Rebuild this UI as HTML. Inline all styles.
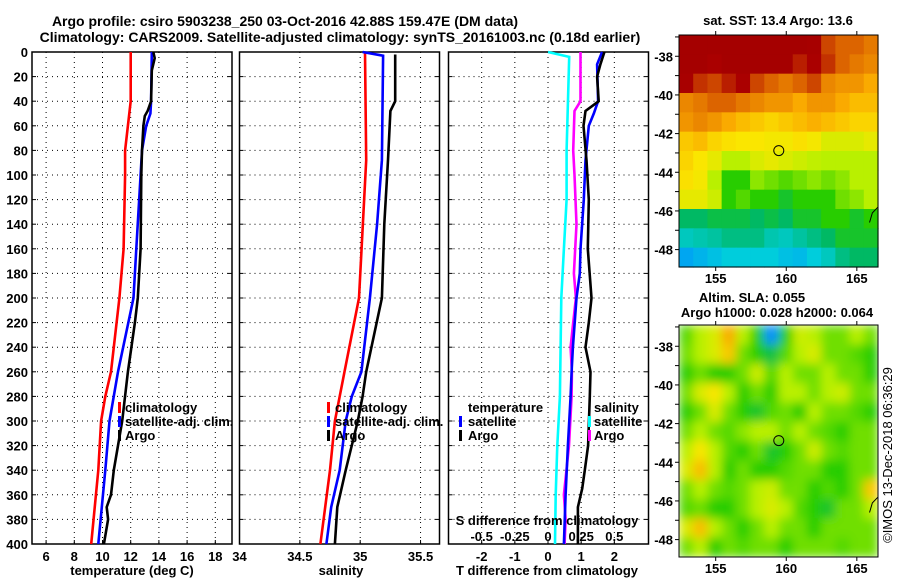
<!DOCTYPE html>
<html><head><meta charset="utf-8"><style>
html,body{margin:0;padding:0;background:#fff;}
svg{display:block;font-family:"Liberation Sans",Arial,sans-serif;font-weight:bold;}
</style></head><body>
<svg id="c" width="900" height="580" viewBox="0 0 900 580" xmlns="http://www.w3.org/2000/svg">
<defs>
<filter id="blur" x="0" y="0" width="100%" height="100%"><feGaussianBlur stdDeviation="5" edgeMode="duplicate"/></filter>
<clipPath id="clipMap2"><rect x="679" y="325" width="199" height="232"/></clipPath>
</defs>
<text x="285" y="26" font-size="14" text-anchor="middle">Argo profile: csiro 5903238_250 03-Oct-2016 42.88S 159.47E (DM data)</text>
<text x="340" y="42" font-size="14" text-anchor="middle">Climatology: CARS2009. Satellite-adjusted climatology: synTS_20161003.nc (0.18d earlier)</text>
</svg>
<script>
// ---- Profile data ----
const depthTicks=[0,20,40,60,80,100,120,140,160,180,200,220,240,260,280,300,320,340,360,380,400];
const tTicks=[6,8,10,12,14,16,18];
const sTicks=[34,34.5,35,35.5];
const dTTicks=[-2,-1,0,1,2];
const dSTickLabels=["-0.5","-0.25","0","0.25","0.5"];
const dSTicks=[-0.5,-0.25,0,0.25,0.5];

const tDepthClim=[0,40,60,80,100,160,200,260,280,300,340,400];
const tClim=[12.0,12.0,11.8,11.6,11.6,11.5,11.2,10.6,10.2,9.9,9.7,9.2];
const tDepthSat=[0,40,50,60,80,100,160,200,260,300,340,400];
const tSat=[13.5,13.45,13.4,13.1,12.8,12.7,12.4,12.2,11.1,10.5,10.2,9.7];
const tDepthArgo=[0,5,15,40,48,52,60,80,100,160,200,220,260,300,320,340,360,370,380,400];
const tArgo=[13.6,13.7,13.5,13.45,13.2,13.0,12.9,12.8,12.75,12.7,12.5,12.3,11.8,11.4,11.1,10.8,10.6,10.3,10.4,10.1];

const sDepthClim=[0,88,200,260,280,300,340,370,400];
const sClim=[35.04,35.05,34.99,34.87,34.83,34.79,34.75,34.71,34.67];
const sDepthSat=[0,3,88,140,200,260,280,300,340,370,400];
const sSat=[35.02,35.19,35.18,35.14,35.08,35.01,34.93,34.88,34.83,34.76,34.72];
const sDepthArgo=[2,40,48,88,140,200,260,280,300,340,370,400];
const sArgo=[35.29,35.29,35.25,35.23,35.2,35.18,35.05,35.02,34.98,34.88,34.81,34.79];

const dtDepthSat=[0,10,40,50,60,88,120,160,180,200,240,260,280,320,360,400];
const dtSat=[1.63,1.48,1.51,1.38,1.23,1.13,1.08,0.98,0.96,0.86,0.75,0.71,0.68,0.6,0.53,0.48];
const dtDepthArgo=[0,10,20,40,48,60,88,120,160,200,220,240,260,280,320,340,355,370,400];
const dtArgo=[1.7,1.58,1.48,1.53,1.13,1.07,1.16,1.23,1.2,1.31,1.23,1.13,1.28,1.26,1.21,1.11,1.03,0.9,0.9];
const dsDepthSat=[0,4,80,120,160,200,240,280,320,360,400];
const dsSat=[0,0.16,0.14,0.14,0.12,0.10,0.095,0.09,0.07,0.058,0.053];
const dsDepthArgo=[0,40,48,80,100,140,180,200,220,240,260,280,320,360,380,400];
const dsArgo=[0.245,0.245,0.2,0.19,0.2,0.215,0.195,0.21,0.19,0.17,0.18,0.178,0.158,0.12,0.133,0.125];

// ---- Map data ----
const mapLonTicks=[155,160,165];
const mapLatTicks=[-38,-40,-42,-44,-46,-48];
const sstGrid=[
[1,1,1,1,1,1,1,1,1,0.98,0.88,0.85,0.85,0.82],
[1,1,0.95,1,1,1,1,1,0.92,0.95,0.9,0.85,0.82,0.8],
[0.97,0.9,0.88,0.92,0.95,0.88,0.85,0.82,0.85,0.88,0.8,0.78,0.78,0.75],
[0.8,0.82,0.85,0.85,0.82,0.8,0.78,0.78,0.75,0.78,0.78,0.75,0.72,0.72],
[0.78,0.8,0.78,0.75,0.72,0.7,0.68,0.7,0.72,0.74,0.72,0.7,0.68,0.68],
[0.7,0.72,0.68,0.66,0.65,0.65,0.64,0.64,0.66,0.64,0.6,0.6,0.6,0.62],
[0.68,0.65,0.62,0.55,0.55,0.6,0.62,0.6,0.58,0.56,0.55,0.55,0.55,0.55],
[0.66,0.64,0.55,0.45,0.45,0.52,0.5,0.48,0.5,0.52,0.5,0.52,0.55,0.55],
[0.62,0.62,0.58,0.45,0.48,0.45,0.45,0.42,0.45,0.45,0.45,0.5,0.52,0.55],
[0.38,0.38,0.4,0.4,0.4,0.38,0.4,0.38,0.42,0.42,0.45,0.45,0.42,0.45],
[0.32,0.33,0.34,0.36,0.36,0.36,0.33,0.32,0.34,0.36,0.38,0.42,0.42,0.42],
[0.24,0.26,0.28,0.3,0.3,0.3,0.3,0.28,0.27,0.3,0.32,0.36,0.38,0.38]];
const slaGrid=[
[0.48,0.55,0.6,0.75,0.55,0.45,0.2,0.45,0.58,0.55,0.5,0.5,0.55,0.5],
[0.5,0.55,0.6,0.7,0.5,0.45,0.4,0.48,0.55,0.6,0.5,0.5,0.48,0.45],
[0.45,0.5,0.45,0.45,0.5,0.58,0.48,0.55,0.5,0.5,0.55,0.5,0.5,0.45],
[0.5,0.6,0.65,0.55,0.45,0.5,0.45,0.55,0.55,0.5,0.55,0.58,0.5,0.5],
[0.45,0.5,0.6,0.5,0.45,0.42,0.48,0.5,0.45,0.55,0.5,0.5,0.48,0.45],
[0.5,0.55,0.5,0.48,0.52,0.55,0.55,0.5,0.55,0.5,0.48,0.45,0.5,0.5],
[0.55,0.65,0.55,0.48,0.45,0.5,0.42,0.45,0.5,0.58,0.5,0.48,0.5,0.5],
[0.6,0.72,0.55,0.45,0.5,0.45,0.45,0.48,0.5,0.5,0.45,0.45,0.5,0.5],
[0.5,0.55,0.5,0.48,0.5,0.55,0.58,0.5,0.5,0.45,0.48,0.45,0.5,0.7],
[0.48,0.5,0.45,0.45,0.5,0.55,0.6,0.55,0.48,0.45,0.42,0.5,0.5,0.55],
[0.6,0.72,0.55,0.5,0.45,0.5,0.55,0.5,0.5,0.45,0.5,0.5,0.5,0.5],
[0.5,0.55,0.45,0.5,0.48,0.5,0.5,0.45,0.5,0.5,0.5,0.48,0.5,0.5]];
const argoLon=159.47, argoLat=-42.88;

const NS="http://www.w3.org/2000/svg";
const svg=document.getElementById('c');
function mk(tag,attrs,parent){const e=document.createElementNS(NS,tag);for(const k in attrs)e.setAttribute(k,attrs[k]);(parent||svg).appendChild(e);return e;}

const Y0=52,Y1=544;
function yD(d){return Y0+(Y1-Y0)*d/400;}

function panel(name,x0,x1,dmin,dmax,ticks,labels,showY){
  const g=mk('g',{});
  
  
  const xs=v=>x0+(x1-x0)*(v-dmin)/(dmax-dmin);
  depthTicks.forEach((d,i)=>{
    if(d>0&&d<400){const l=mk('line',{x1:x0,x2:x1,y1:yD(d),y2:yD(d),stroke:'#000','stroke-width':1,'stroke-dasharray':'1,4'},g);
    }
    mk('line',{x1:x0,x2:x0+4,y1:yD(d),y2:yD(d),stroke:'#000'},g);
    mk('line',{x1:x1,x2:x1-4,y1:yD(d),y2:yD(d),stroke:'#000'},g);
    if(showY){const t=mk('text',{x:x0-4,y:yD(d)+5,'font-size':13,'text-anchor':'end'},g);t.textContent=d;
    }
  });
  ticks.forEach((v,i)=>{
    const x=xs(v);
    if(x>x0+1&&x<x1-1){const l=mk('line',{x1:x,x2:x,y1:Y0,y2:Y1,stroke:'#000','stroke-dasharray':'1,4'},g);
    }
    mk('line',{x1:x,x2:x,y1:Y1,y2:Y1-4,stroke:'#000'},g);
    const t=mk('text',{x:x,y:561,'font-size':13,'text-anchor':'middle'},g);t.textContent=labels?labels[i]:v;
    
  });
  const r=mk('rect',{x:x0,y:Y0,width:x1-x0,height:Y1-Y0,fill:'none',stroke:'#000','stroke-width':1.5},g);
  
  return {g,xs};
}
function series(p,depths,vals,color,name,conv){
  const pts=depths.map((d,i)=>p.xs(conv?conv(vals[i]):vals[i]).toFixed(1)+','+yD(d).toFixed(1)).join(' ');
  const l=mk('polyline',{points:pts,fill:'none',stroke:color,'stroke-width':2.6,'stroke-linejoin':'miter'},p.g);
  
}
function label(x,y,txt,name,anchor,size){const t=mk('text',{x:x,y:y,'font-size':size||13,'text-anchor':anchor||'start'});t.textContent=txt;
  return t;}
function legBar(x,y,color,name){const r=mk('rect',{x:x,y:y-10,width:3,height:11,fill:color});
  }

// Panel 1 temperature
const p1=panel('temperature-panel',32,232,5,5+200/14.1,tTicks,null,true);
series(p1,tDepthClim,tClim,'#f00','climatology-temperature-line');
series(p1,tDepthSat,tSat,'#00f','satellite-temperature-line');
series(p1,tDepthArgo,tArgo,'#000','argo-temperature-line');
label(132,575,'temperature (deg C)','x-axis-title-temperature','middle');
legBar(118,412,'#f00','legend-swatch-climatology');label(125,412,'climatology','legend-entry-climatology');
legBar(118,426,'#00f','legend-swatch-satellite');label(125,426,'satellite-adj. clim.','legend-entry-satellite');
legBar(118,440,'#000','legend-swatch-argo');label(125,440,'Argo','legend-entry-argo');

// Panel 2 salinity
const p2=panel('salinity-panel',239.5,439.5,34,34+200/120.7,sTicks,null,false);
series(p2,sDepthClim,sClim,'#f00','climatology-salinity-line');
series(p2,sDepthSat,sSat,'#00f','satellite-salinity-line');
series(p2,sDepthArgo,sArgo,'#000','argo-salinity-line');
label(341,575,'salinity','x-axis-title-salinity','middle');
legBar(327,412,'#f00','legend-swatch-climatology-2');label(335,412,'climatology','legend-entry-climatology-2');
legBar(327,426,'#00f','legend-swatch-satellite-2');label(335,426,'satellite-adj. clim.','legend-entry-satellite-2');
legBar(327,440,'#000','legend-swatch-argo-2');label(335,440,'Argo','legend-entry-argo-2');

// Panel 3 differences
const p3=panel('difference-panel',448.5,648.5,-3,3.03,dTTicks,null,false);
series(p3,dsDepthSat,dsSat,'#0ff','satellite-salinity-diff-line',v=>v*4);
series(p3,dsDepthArgo,dsArgo,'#f0f','argo-salinity-diff-line',v=>v*4);
series(p3,dtDepthSat,dtSat,'#00f','satellite-temperature-diff-line');
series(p3,dtDepthArgo,dtArgo,'#000','argo-temperature-diff-line');
label(547,575,'T difference from climatology','x-axis-title-tdiff','middle');
label(547,525,'S difference from climatology','s-axis-title','middle');
dSTicks.forEach((v,i)=>{label(p3.xs(v*4),541,dSTickLabels[i],'s-tick-label','middle');});
label(468,412,'temperature','legend-header-temperature');
legBar(459,426,'#00f','legend-swatch-tdiff-satellite');label(468,426,'satellite','legend-entry-tdiff-satellite');
legBar(459,440,'#000','legend-swatch-tdiff-argo');label(468,440,'Argo','legend-entry-tdiff-argo');
label(594,412,'salinity','legend-header-salinity');
legBar(588,426,'#0ff','legend-swatch-sdiff-satellite');label(594,426,'satellite','legend-entry-sdiff-satellite');
legBar(588,440,'#f0f','legend-swatch-sdiff-argo');label(594,440,'Argo','legend-entry-sdiff-argo');

// ---- Maps ----
const stops=[[0,[0,60,200]],[0.2,[0,140,255]],[0.3,[0,205,220]],[0.38,[0,185,100]],[0.45,[40,205,0]],[0.55,[185,240,0]],[0.65,[250,230,0]],[0.75,[250,170,0]],[0.85,[220,100,0]],[0.95,[170,0,0]],[1,[165,0,0]]];
function cmap(v){for(let i=1;i<stops.length;i++){if(v<=stops[i][0]){const a=stops[i-1],b=stops[i];const f=(v-a[0])/(b[0]-a[0]);
  const c=a[1].map((x,k)=>Math.round(x+(b[1][k]-x)*f));return 'rgb('+c.join(',')+')';}}return 'rgb(165,0,0)';}
const LON0=152.4,LON1=166.5,LAT0=-36.9,LAT1=-48.9;
function map(name,top,bottom,grid,blur){
  const g=mk('g',{});
  
  const left=679,right=878;
  const xs=lon=>left+(right-left)*(lon-LON0)/(LON1-LON0);
  const ys=lat=>top+(bottom-top)*(lat-LAT0)/(LAT1-LAT0);
  const cells=mk('g',blur?{filter:'url(#blur)','clip-path':'url(#clipMap2)'}:{},g);
  const nr=grid.length,nc=grid[0].length;
  const cw=(right-left)/nc,ch=(bottom-top)/nr;
  grid.forEach((row,r)=>row.forEach((v,c)=>{
    const e=mk('rect',{x:(left+c*cw).toFixed(2),y:(top+r*ch).toFixed(2),width:(cw+0.6).toFixed(2),height:(ch+0.6).toFixed(2),fill:cmap(v)},cells);
    
  }));
  mk('rect',{x:left,y:top,width:right-left,height:bottom-top,fill:'none',stroke:'#000','stroke-width':1},g);
  for(let lat=-37;lat>=-48;lat--){mk('line',{x1:left-4,x2:left,y1:ys(lat),y2:ys(lat),stroke:'#000'},g);}
  mapLatTicks.forEach(lat=>{const t=mk('text',{x:left-6,y:ys(lat)+5,'font-size':13,'text-anchor':'end'},g);t.textContent=lat;
    });
  mapLonTicks.forEach(lon=>{mk('line',{x1:xs(lon),x2:xs(lon),y1:bottom,y2:bottom+4,stroke:'#000'},g);mk('line',{x1:xs(lon),x2:xs(lon),y1:top,y2:top-4,stroke:'#000'},g);
    const t=mk('text',{x:xs(lon),y:bottom+16,'font-size':13,'text-anchor':'middle'},g);t.textContent=lon;
    });
  const c=mk('circle',{cx:xs(argoLon),cy:ys(argoLat),r:5,fill:'none',stroke:'#000','stroke-width':1},g);
  
  const cl=mk('polyline',{points:[[166.5,-45.8],[166.1,-46.1],[165.9,-46.6]].map(p=>xs(p[0])+','+ys(p[1])).join(' '),fill:'none',stroke:'#000'},g);
  
}
map('sst-map',35,267,sstGrid,false);
map('sla-map',325,557,slaGrid,true);
label(778,25,'sat. SST: 13.4 Argo: 13.6','sst-map-title','middle');
label(752,302,'Altim. SLA: 0.055','sla-map-title','middle');
label(777,317,'Argo h1000: 0.028 h2000: 0.064','sla-argo-title','middle');
const im=label(0,0,'©IMOS 13-Dec-2018 06:36:29','timestamp-label','middle',13);
im.setAttribute('font-weight','normal');
im.setAttribute('transform','translate(892,455) rotate(-90)');
</script>
</body></html>
